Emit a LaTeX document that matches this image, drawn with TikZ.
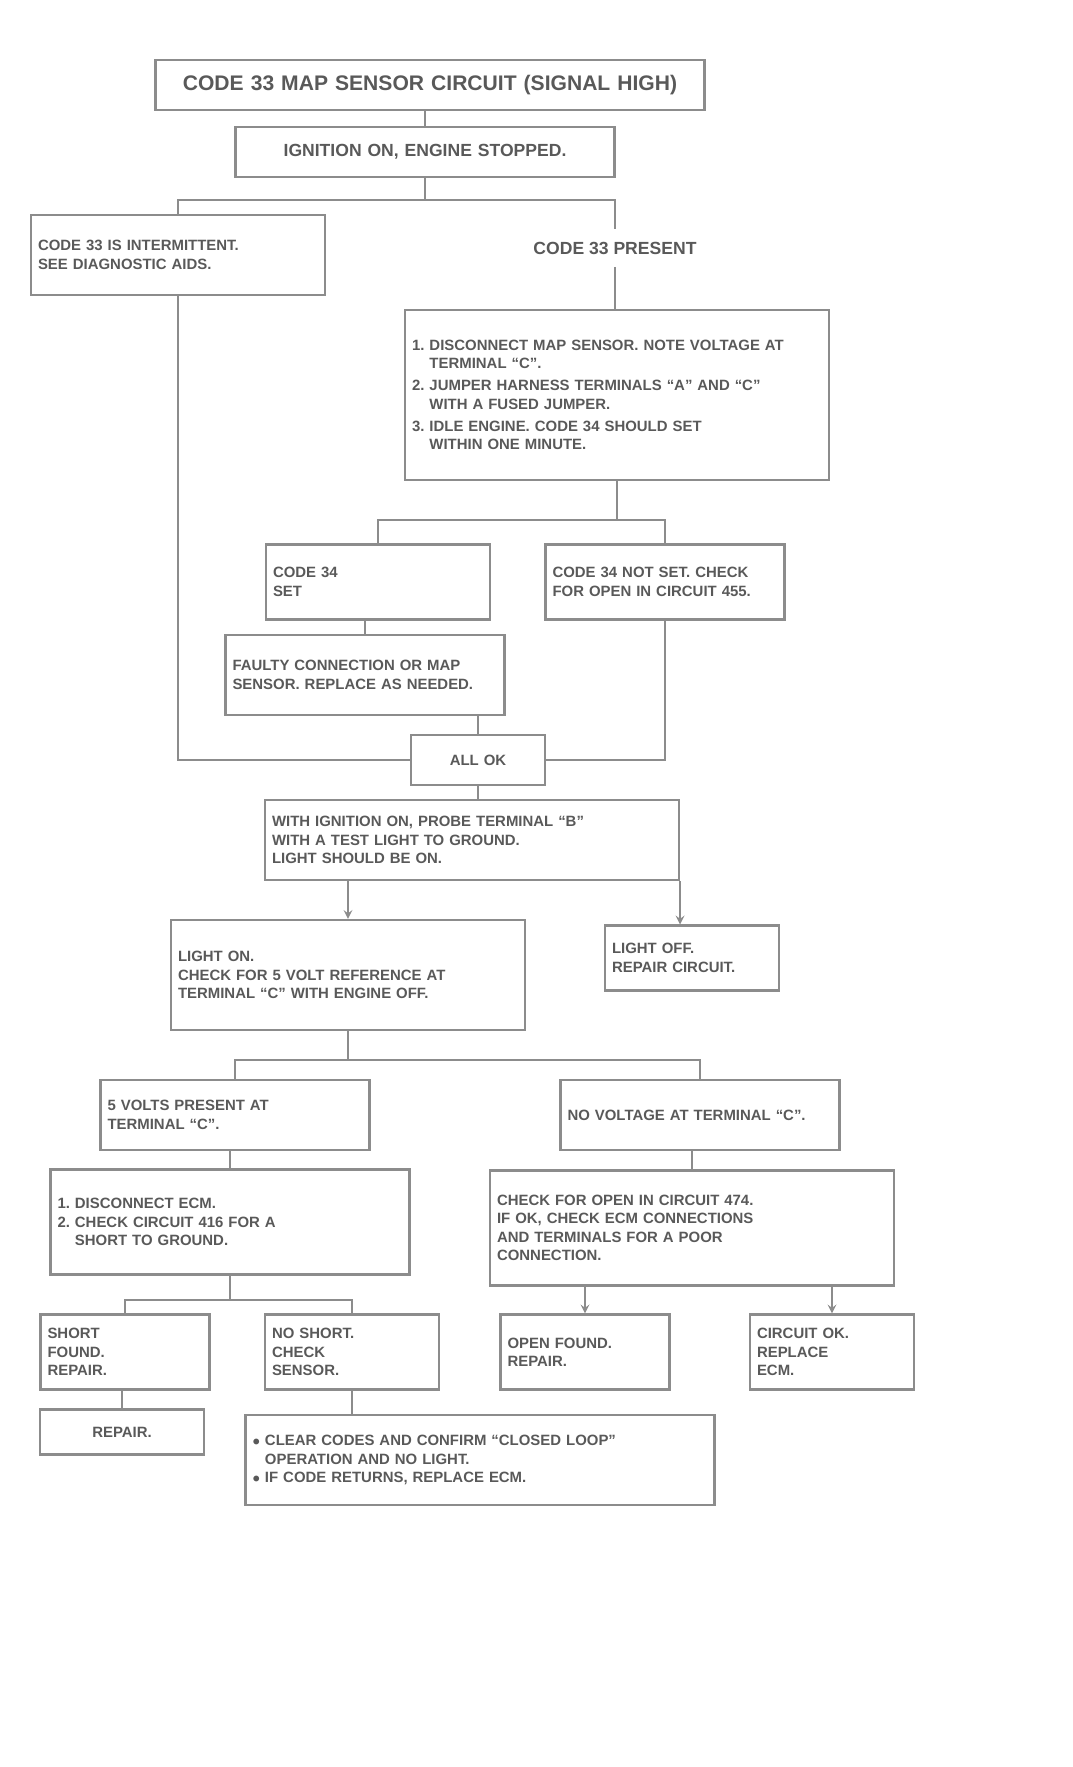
\documentclass[tikz,border=0pt]{standalone}
\usepackage{fontspec}
\setmainfont{Liberation Sans}
\usetikzlibrary{positioning}

\begin{document}
\begin{tikzpicture}
    % styles: boxes, plain labels and connectors
    [x=0.02cm, y=-0.02cm,
    ChartBox/.style={draw=black!45, line width=1.2pt, inner sep=4pt, align=left, text=black!65, font=\bfseries\fontsize{8.5}{10.5}\selectfont},
    ChartText/.style={inner sep=7pt, align=center, text=black!65, font=\bfseries\fontsize{10}{12}\selectfont},
    ChartLine/.style={draw=black!45, line width=1.2pt}]

    % page size
    \useasboundingbox (0,0) rectangle (1072,1767);

    % title and first step
    \node[ChartBox, align=center, text width=10.7cm, minimum height=1cm, font=\bfseries\fontsize{12}{14}\selectfont] (title) at (430,85) {CODE 33 MAP SENSOR CIRCUIT (SIGNAL HIGH)};
    \node[ChartBox, align=center, text width=7.3cm, minimum height=1cm, font=\bfseries\fontsize{10}{12}\selectfont] (start) at (425,152) {IGNITION ON, ENGINE STOPPED.};

    % first branch
    \node[ChartBox, text width=5.6cm, minimum height=1.6cm] (intm) at (178,255) {CODE 33 IS INTERMITTENT.\\SEE DIAGNOSTIC AIDS.};
    \node[ChartText] (present) at (615,248) {CODE 33 PRESENT};
    \node[ChartBox, text width=8.2cm, minimum height=3.4cm] (test_1) at (617,395)
        {1.\ DISCONNECT MAP SENSOR. NOTE VOLTAGE AT\\\phantom{1.}\ TERMINAL ``C''.\\[2pt]
         2.\ JUMPER HARNESS TERMINALS ``A'' AND ``C''\\\phantom{2.}\ WITH A FUSED JUMPER.\\[2pt]
         3.\ IDLE ENGINE. CODE 34 SHOULD SET\\\phantom{3.}\ WITHIN ONE MINUTE.};

    % result of the jumper test
    \node[ChartBox, text width=4.2cm, minimum height=1.5cm] (set_a) at (378,582) {CODE 34\\SET\\[14pt]};
    \node[ChartBox, text width=4.5cm, minimum height=1.5cm] (set_b) at (665,582) {CODE 34 NOT SET. CHECK\\FOR OPEN IN CIRCUIT 455.};
    \node[ChartBox, text width=5.3cm, minimum height=1.6cm] (fault) at (365,675) {FAULTY CONNECTION OR MAP\\SENSOR. REPLACE AS NEEDED.};
    \node[ChartBox, align=center, text width=2.4cm, minimum height=1cm] (recheck) at (478,760) {ALL OK};

    % test light step
    \node[ChartBox, text width=8cm, minimum height=1.6cm] (probe) at (472,840)
        {WITH IGNITION ON, PROBE TERMINAL ``B''\\WITH A TEST LIGHT TO GROUND.\\LIGHT SHOULD BE ON.};
    \node[ChartBox, text width=6.8cm, minimum height=2.2cm] (light_on) at (348,975)
        {LIGHT ON.\\CHECK FOR 5 VOLT REFERENCE AT\\TERMINAL ``C'' WITH ENGINE OFF.};
    \node[ChartBox, text width=3.2cm, minimum height=1.3cm] (light_off) at (692,958) {LIGHT OFF.\\REPAIR CIRCUIT.};

    % voltage branch
    \node[ChartBox, text width=5.1cm, minimum height=1.4cm] (volt_a) at (235,1115) {5 VOLTS PRESENT AT\\TERMINAL ``C''.};
    \node[ChartBox, text width=5.3cm, minimum height=1.4cm] (volt_b) at (700,1115) {NO VOLTAGE AT TERMINAL ``C''.};
    \node[ChartBox, text width=6.9cm, minimum height=2.1cm] (check_a) at (230,1222)
        {1.\ DISCONNECT ECM.\\2.\ CHECK CIRCUIT 416 FOR A\\\phantom{2.}\ SHORT TO GROUND.};
    \node[ChartBox, text width=7.8cm, minimum height=2.3cm] (check_b) at (692,1228)
        {CHECK FOR OPEN IN CIRCUIT 474.\\IF OK, CHECK ECM CONNECTIONS\\AND TERMINALS FOR A POOR\\CONNECTION.};

    % bottom row
    \foreach \x/\w/\t [count=\i] in {125/3.1/SHORT\\FOUND.\\REPAIR., 352/3.2/NO SHORT.\\CHECK\\SENSOR., 585/3.1/OPEN FOUND.\\REPAIR., 832/3.0/CIRCUIT OK.\\REPLACE\\ECM.}
        \node[ChartBox, text width=\w cm, minimum height=1.5cm] (row_\i) at (\x,1352) {\t};

    \node[ChartBox, align=center, text width=3.0cm, minimum height=0.9cm] (repair) at (122,1432) {REPAIR.};
    \node[ChartBox, text width=9.1cm, minimum height=1.8cm] (final) at (480,1460)
        {$\bullet$\ CLEAR CODES AND CONFIRM ``CLOSED LOOP''\\\phantom{$\bullet$}\ OPERATION AND NO LIGHT.\\$\bullet$\ IF CODE RETURNS, REPLACE ECM.};

    % connectors, top part
    \coordinate (split_1) at (425,200);
    \coordinate (split_2) at (617,520);
    \draw[ChartLine] (start.north) -- (start.north |- title.south);
    \draw[ChartLine] (start) -- (split_1) -| (intm.north);
    \draw[ChartLine] (split_1) -| (present.north);
    \draw[ChartLine] (present.south) -- (present.south |- test_1.north);
    \draw[ChartLine] (test_1) -- (split_2) -| (set_a.north);
    \draw[ChartLine] (split_2) -| (set_b.north);
    \draw[ChartLine] (fault.north) -- (fault.north |- set_a.south);
    \draw[ChartLine] (recheck.north |- fault.south) -- (recheck.north);
    \draw[ChartLine] (intm.south) |- (recheck.west);
    \draw[ChartLine] (set_b.south) |- (recheck.east);
    \draw[ChartLine] (recheck.south) -- (recheck.south |- probe.north);

    % connectors, lower part
    \draw[ChartLine, -stealth] (probe.south -| light_on.north) -- (light_on.north);
    \draw[ChartLine, -stealth] (probe.south east) -- (probe.south east |- light_off.north);
    \coordinate (split_3) at (348,1060);
    \draw[ChartLine] (light_on) -- (split_3) -| (volt_a.north);
    \draw[ChartLine] (split_3) -| (volt_b.north);
    \draw[ChartLine] (check_a.north) -- (check_a.north |- volt_a.south);
    \draw[ChartLine] (check_b.north) -- (check_b.north |- volt_b.south);
    \coordinate (split_4) at (230,1300);
    \draw[ChartLine] (check_a) -- (split_4) -| (row_1.north);
    \draw[ChartLine] (split_4) -| (row_2.north);
    \draw[ChartLine, -stealth] (check_b.south -| row_3.north) -- (row_3.north);
    \draw[ChartLine, -stealth] (check_b.south -| row_4.north) -- (row_4.north);
    \draw[ChartLine] (repair.north) -- (repair.north |- row_1.south);
    \draw[ChartLine] (row_2.south) -- (row_2.south |- final.north);

\end{tikzpicture}
\end{document}
